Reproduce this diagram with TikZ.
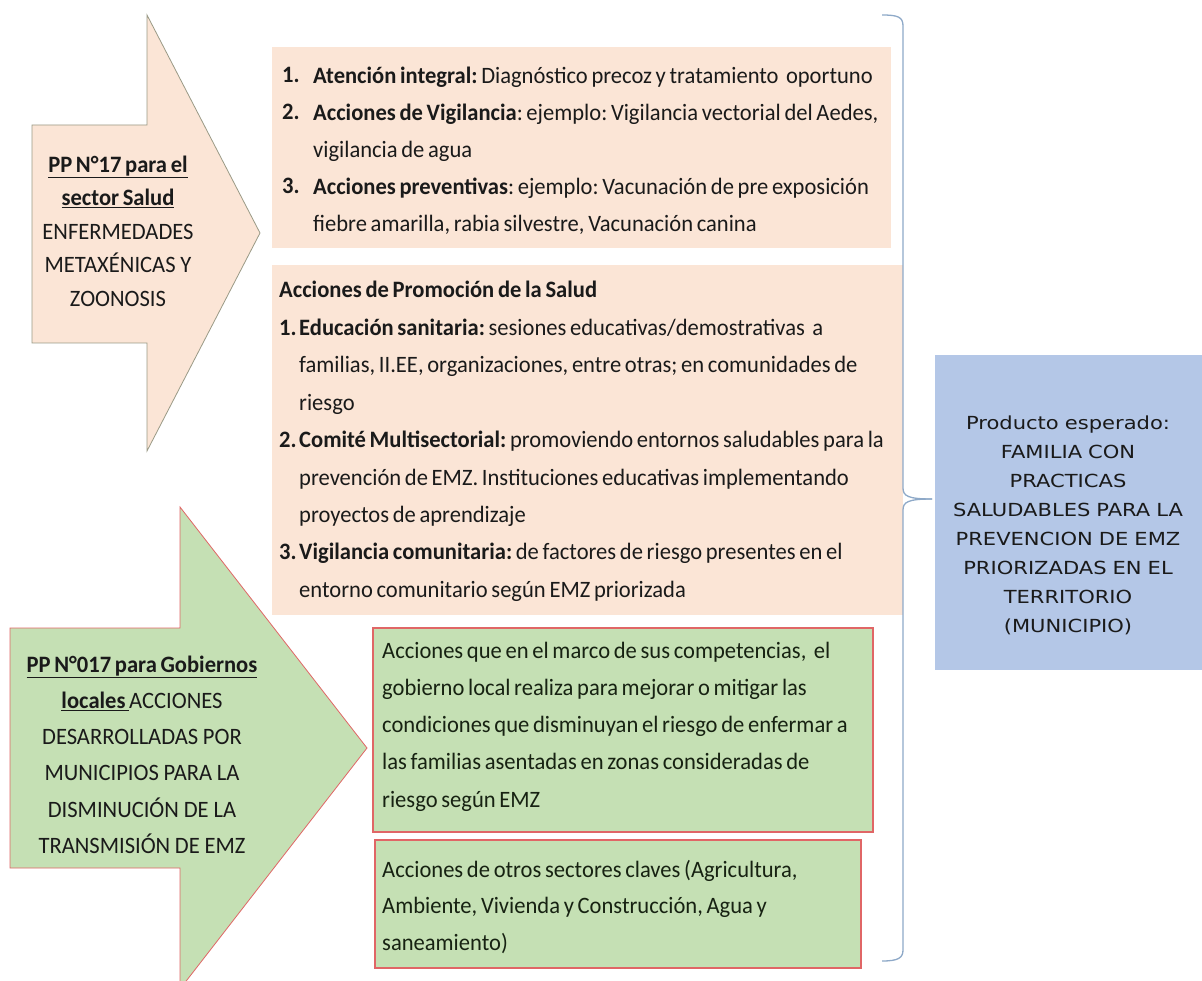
\documentclass[tikz,border=0pt]{standalone}
\usepackage{fontspec}
\setmainfont{Carlito}[FakeStretch=0.96]
\newfontfamily\bluef[FakeStretch=1.17]{DejaVu Sans}
\newcommand\tightsp{\spaceskip=3.7pt plus 1pt minus 0.5pt\relax}
\definecolor{peach}{HTML}{FBE5D6}
\definecolor{greenf}{HTML}{C5E0B4}
\definecolor{bluef}{HTML}{B4C7E7}
\definecolor{redline}{HTML}{E06666}
\definecolor{olive}{HTML}{9A9A86}
\definecolor{bracec}{HTML}{8EA9C8}
\definecolor{ink}{HTML}{1A1A1A}
\definecolor{greenink}{HTML}{172212}
\tikzset{
  one/.style={inner sep=0pt, anchor=base west, text=ink, font=\fontsize{23.5}{37}\selectfont},
  blk/.style={inner sep=0pt, anchor=north west, align=left, text width=#1, text=ink},
  cblk/.style={inner sep=0pt, anchor=north, align=center, text width=#1, text=ink},
}
\begin{document}
\frenchspacing
\begin{tikzpicture}[x=1pt,y=-1pt]
\useasboundingbox (0,0) rectangle (1202,981);
\clip (0,0) rectangle (1202,981);
\fill[white] (0,0) rectangle (1202,981);

% top arrow (peach)
\draw[olive, fill=peach, line width=0.8pt]
  (32,125) -- (147,125) -- (147,15) -- (260,233) -- (147,451) -- (147,343) -- (32,343) -- cycle;
% bottom arrow (green)
\draw[redline, fill=greenf, line width=0.8pt]
  (10,628) -- (180,628) -- (180,507) -- (367,748) -- (180,989) -- (180,868) -- (10,868) -- cycle;

% peach boxes
\fill[peach] (272,47) rectangle (891,248);
\fill[peach] (272,265) rectangle (903,615);
% green boxes
\draw[redline, fill=greenf, line width=1.3pt] (373,628) rectangle (873,832);
\draw[redline, fill=greenf, line width=1.3pt] (375,840) rectangle (861,968);
% blue box
\fill[bluef] (935,355) rectangle (1202,670);

% brace
\coordinate (braceTop) at (882,15);
\coordinate (braceTip) at (932,499);
\coordinate (braceBot) at (882,961);
\draw[bracec, line width=1.3pt] (braceTop) .. controls (898,15) and (903,17) .. (903,26)
  -- (903,488) .. controls (903,496) and (908,499) .. (braceTip);
\draw[bracec, line width=1.3pt] (braceTip) .. controls (908,499) and (903,502) .. (903,510)
  -- (903,950) .. controls (903,958) and (898,961) .. (braceBot);

% top arrow text
\node[cblk=240, font=\fontsize{23.5}{33.5}\selectfont] (pp17) at (118,148.5)
  {\tightsp\strut\textbf{\underline{PP N°17 para el}}\\
   \textbf{\underline{sector Salud}}\\
   ENFERMEDADES\\
   METAXÉNICAS Y\\
   ZOONOSIS};

% bottom arrow text
\node[cblk=300, font=\fontsize{23.5}{36.2}\selectfont] (pp017) at (142,646.7)
  {\tightsp\strut\textbf{\underline{PP N°017 para Gobiernos}}\\
   \underline{\textbf{locales}\ }ACCIONES\\
   DESARROLLADAS POR\\
   MUNICIPIOS PARA LA\\
   DISMINUCIÓN DE LA\\
   TRANSMISIÓN DE EMZ};

% box 1 text
\node[one] (n1) at (282,83) {\textbf{1.}};
\node[one] (n2) at (282,120) {\textbf{2.}};
\node[one] (n3) at (282,194) {\textbf{3.}};
\node[blk=700, font=\fontsize{23.5}{37}\selectfont] (box1) at (313,57.1)
  {\tightsp\strut\textbf{Atención integral:} Diagnóstico precoz y tratamiento\ \ oportuno\\
   \textbf{Acciones de Vigilancia}: ejemplo: Vigilancia vectorial del Aedes,\\
   vigilancia de agua\\
   \textbf{Acciones preventivas}: ejemplo: Vacunación de pre exposición\\
   fiebre amarilla, rabia silvestre, Vacunación canina};

% box 2 text
\node[one] (title2) at (279,298) {\tightsp\textbf{Acciones de Promoción de la Salud}};
\node[one] (m1) at (279,335.4) {\textbf{1.}};
\node[one] (m2) at (279,447.6) {\textbf{2.}};
\node[one] (m3) at (279,559.8) {\textbf{3.}};
\node[blk=700, font=\fontsize{23.5}{37.4}\selectfont] (box2) at (299,309.2)
  {\tightsp\strut\textbf{Educación sanitaria:} sesiones educativas/demostrativas\ \ a\\
   familias, II.EE, organizaciones, entre otras; en comunidades de\\
   riesgo\\
   \textbf{Comité Multisectorial:} promoviendo entornos saludables para la\\
   prevención de EMZ. Instituciones educativas implementando\\
   proyectos de aprendizaje\\
   \textbf{Vigilancia comunitaria:} de factores de riesgo presentes en el\\
   entorno comunitario según EMZ priorizada};

% green box texts
\node[blk=700, text=greenink, font=\fontsize{23.5}{37.2}\selectfont] (g1) at (382,632)
  {\tightsp\strut Acciones que en el marco de sus competencias,\ \ el\\
   gobierno local realiza para mejorar o mitigar las\\
   condiciones que disminuyan el riesgo de enfermar a\\
   las familias asentadas en zonas consideradas de\\
   riesgo según EMZ};
\node[blk=700, text=greenink, font=\fontsize{23.5}{36.5}\selectfont] (g2) at (382,851.4)
  {\tightsp\strut Acciones de otros sectores claves (Agricultura,\\
   Ambiente, Vivienda y Construcción, Agua y\\
   saneamiento)};

% blue box text
\node[cblk=265, font=\bluef\fontsize{18}{29}\selectfont] (prod) at (1068,408.7)
  {\strut Producto esperado:\\
   FAMILIA CON\\
   PRACTICAS\\
   SALUDABLES PARA LA\\
   PREVENCION DE EMZ\\
   PRIORIZADAS EN EL\\
   TERRITORIO\\
   (MUNICIPIO)};
\end{tikzpicture}
\end{document}
